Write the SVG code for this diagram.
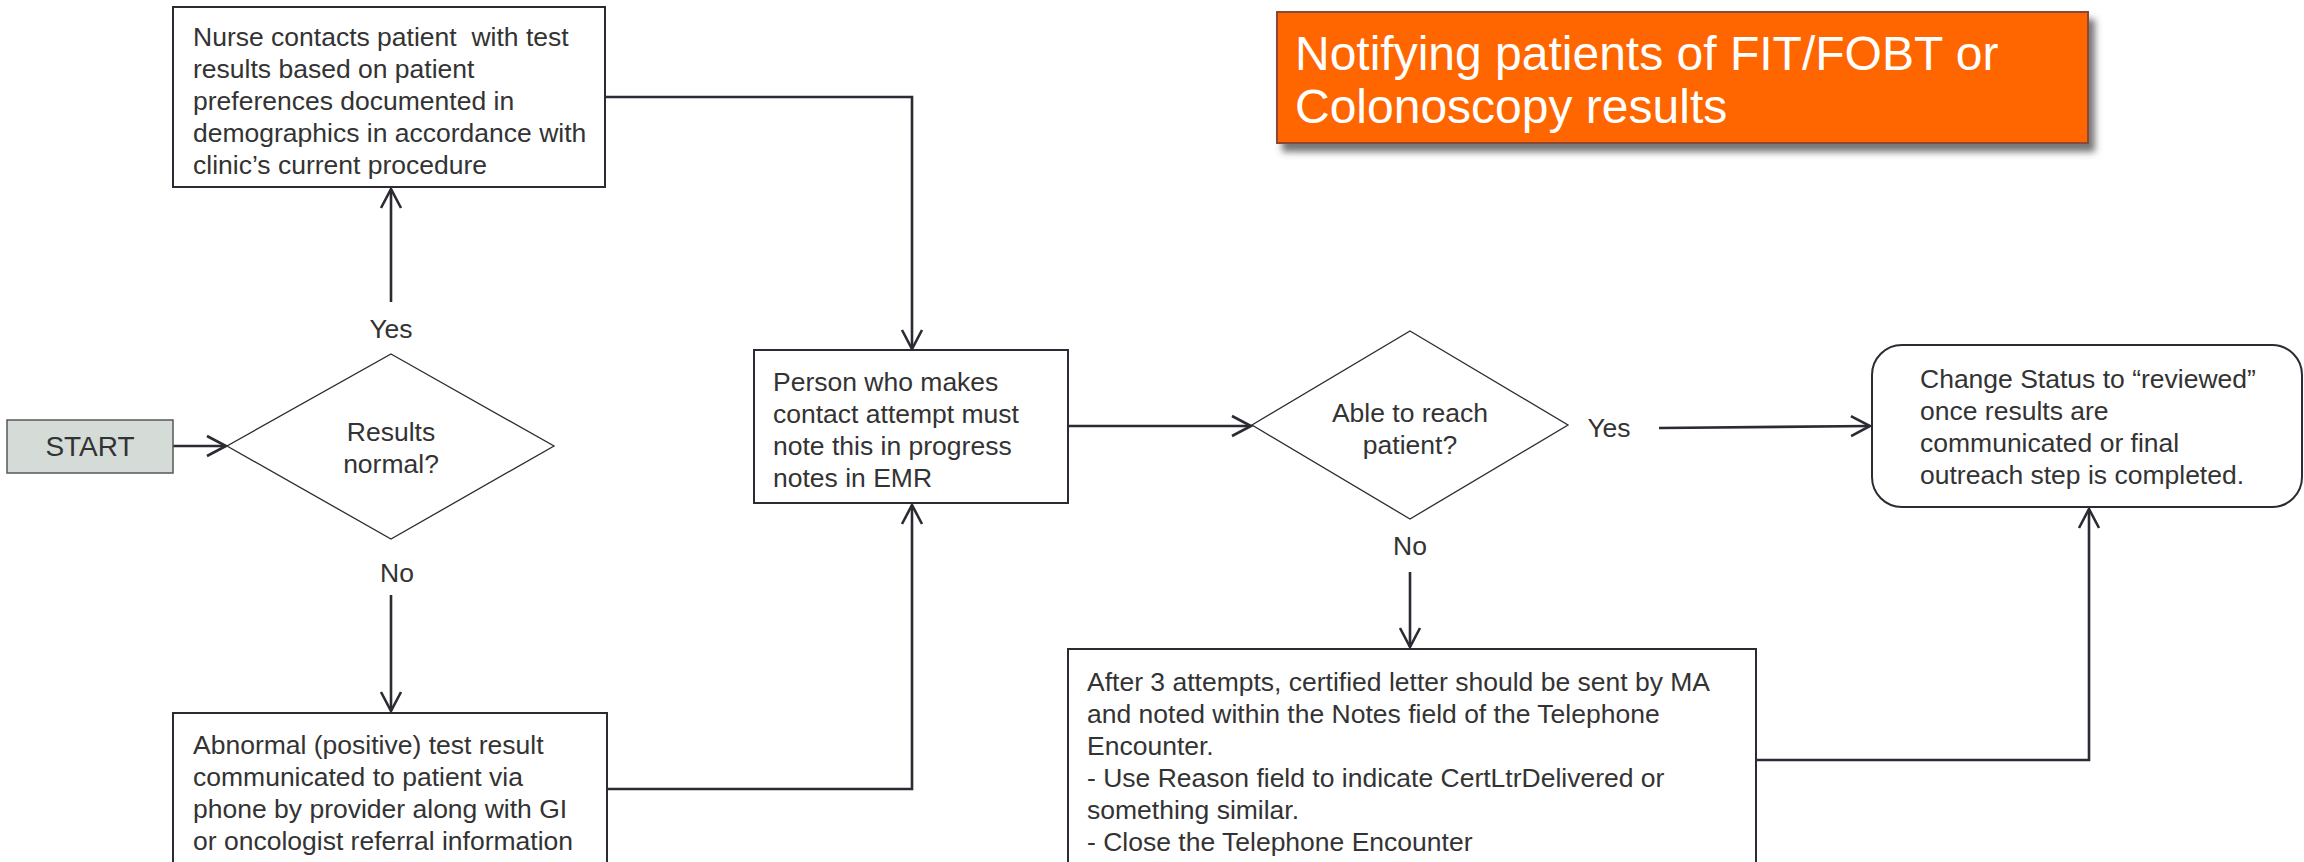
<svg xmlns="http://www.w3.org/2000/svg" width="2304" height="862" viewBox="0 0 2304 862">
<style>
  .box { fill: #ffffff; stroke: #2b2b33; stroke-width: 2; }
  .dia { fill: #ffffff; stroke: #2b2b33; stroke-width: 1.3; }
  .t { font-family: "Liberation Sans", Arial, sans-serif; font-size: 26.5px; fill: #333333; white-space: pre; }
  .tc { text-anchor: middle; }
  .conn { fill: none; stroke: #2b2b33; stroke-width: 2.6; }
  .title { font-family: "Liberation Sans", Arial, sans-serif; font-size: 48px; fill: #ffffff; }
</style>
<defs>
  <marker id="arr" viewBox="-24 -14 26 28" refX="0" refY="0" markerWidth="26" markerHeight="28" markerUnits="userSpaceOnUse" orient="auto" overflow="visible">
    <path d="M-19,-10 L0,0 L-19,10" fill="none" stroke="#2b2b33" stroke-width="2.6"/>
  </marker>
  <filter id="shadow" x="-5%" y="-10%" width="115%" height="130%">
    <feDropShadow dx="6" dy="8" stdDeviation="3.5" flood-color="#555555" flood-opacity="0.8"/>
  </filter>
</defs>
<rect width="2304" height="862" fill="#ffffff"/>

<g id="title">
  <rect x="1277" y="12" width="811" height="131" fill="#ff6600" stroke="#8a4a38" stroke-width="2" filter="url(#shadow)"/>
  <text class="title" x="1295" y="70">Notifying patients of FIT/FOBT or</text>
  <text class="title" x="1295" y="123">Colonoscopy results</text>
</g>

<g id="connectors">
  <path class="conn" d="M173,446 L226,446" marker-end="url(#arr)"/>
  <path class="conn" d="M391,302 L391,189" marker-end="url(#arr)"/>
  <path class="conn" d="M391,595 L391,711" marker-end="url(#arr)"/>
  <path class="conn" d="M605,97 H912 V349" marker-end="url(#arr)"/>
  <path class="conn" d="M607,789 H912 V505" marker-end="url(#arr)"/>
  <path class="conn" d="M1068,426 H1251" marker-end="url(#arr)"/>
  <path class="conn" d="M1659,428 L1870,426" marker-end="url(#arr)"/>
  <path class="conn" d="M1410,572 V647" marker-end="url(#arr)"/>
  <path class="conn" d="M1756,760 H2089 V509" marker-end="url(#arr)"/>
</g>

<g id="start">
  <rect x="7" y="420" width="166" height="53" fill="#d5dcd7" stroke="#55595a" stroke-width="1.5"/>
  <text class="t tc" x="90" y="456" style="font-size:28px">START</text>
</g>

<g id="decision-results">
  <polygon class="dia" points="391,354 554,446 391,539 227,446"/>
  <text class="t tc" x="391" y="441">Results</text>
  <text class="t tc" x="391" y="473">normal?</text>
</g>

<g id="label-yes-1"><text class="t tc" x="391" y="338">Yes</text></g>
<g id="label-no-1"><text class="t tc" x="397" y="582">No</text></g>

<g id="nurse">
  <rect class="box" x="173" y="7" width="432" height="180"/>
  <text class="t" x="193" y="46" xml:space="preserve">Nurse contacts patient  with test</text>
  <text class="t" x="193" y="78">results based on patient</text>
  <text class="t" x="193" y="110">preferences documented in</text>
  <text class="t" x="193" y="142">demographics in accordance with</text>
  <text class="t" x="193" y="174">clinic’s current procedure</text>
</g>

<g id="abnormal">
  <rect class="box" x="173" y="713" width="434" height="160"/>
  <text class="t" x="193" y="754">Abnormal (positive) test result</text>
  <text class="t" x="193" y="786">communicated to patient via</text>
  <text class="t" x="193" y="818">phone by provider along with GI</text>
  <text class="t" x="193" y="850">or oncologist referral information</text>
</g>

<g id="person">
  <rect class="box" x="754" y="350" width="314" height="153"/>
  <text class="t" x="773" y="391">Person who makes</text>
  <text class="t" x="773" y="423">contact attempt must</text>
  <text class="t" x="773" y="455">note this in progress</text>
  <text class="t" x="773" y="487">notes in EMR</text>
</g>

<g id="decision-reach">
  <polygon class="dia" points="1410,331 1568,425 1410,519 1252,425"/>
  <text class="t tc" x="1410" y="422">Able to reach</text>
  <text class="t tc" x="1410" y="454">patient?</text>
</g>

<g id="label-yes-2"><text class="t tc" x="1609" y="437">Yes</text></g>
<g id="label-no-2"><text class="t tc" x="1410" y="555">No</text></g>

<g id="change-status">
  <rect class="box" x="1872" y="345" width="430" height="162" rx="30" ry="30"/>
  <text class="t" x="1920" y="388">Change Status to “reviewed”</text>
  <text class="t" x="1920" y="420">once results are</text>
  <text class="t" x="1920" y="452">communicated or final</text>
  <text class="t" x="1920" y="484">outreach step is completed.</text>
</g>

<g id="after-attempts">
  <rect class="box" x="1068" y="649" width="688" height="224"/>
  <text class="t" x="1087" y="691">After 3 attempts, certified letter should be sent by MA</text>
  <text class="t" x="1087" y="723">and noted within the Notes field of the Telephone</text>
  <text class="t" x="1087" y="755">Encounter.</text>
  <text class="t" x="1087" y="787">- Use Reason field to indicate CertLtrDelivered or</text>
  <text class="t" x="1087" y="819">something similar.</text>
  <text class="t" x="1087" y="851">- Close the Telephone Encounter</text>
</g>
</svg>
